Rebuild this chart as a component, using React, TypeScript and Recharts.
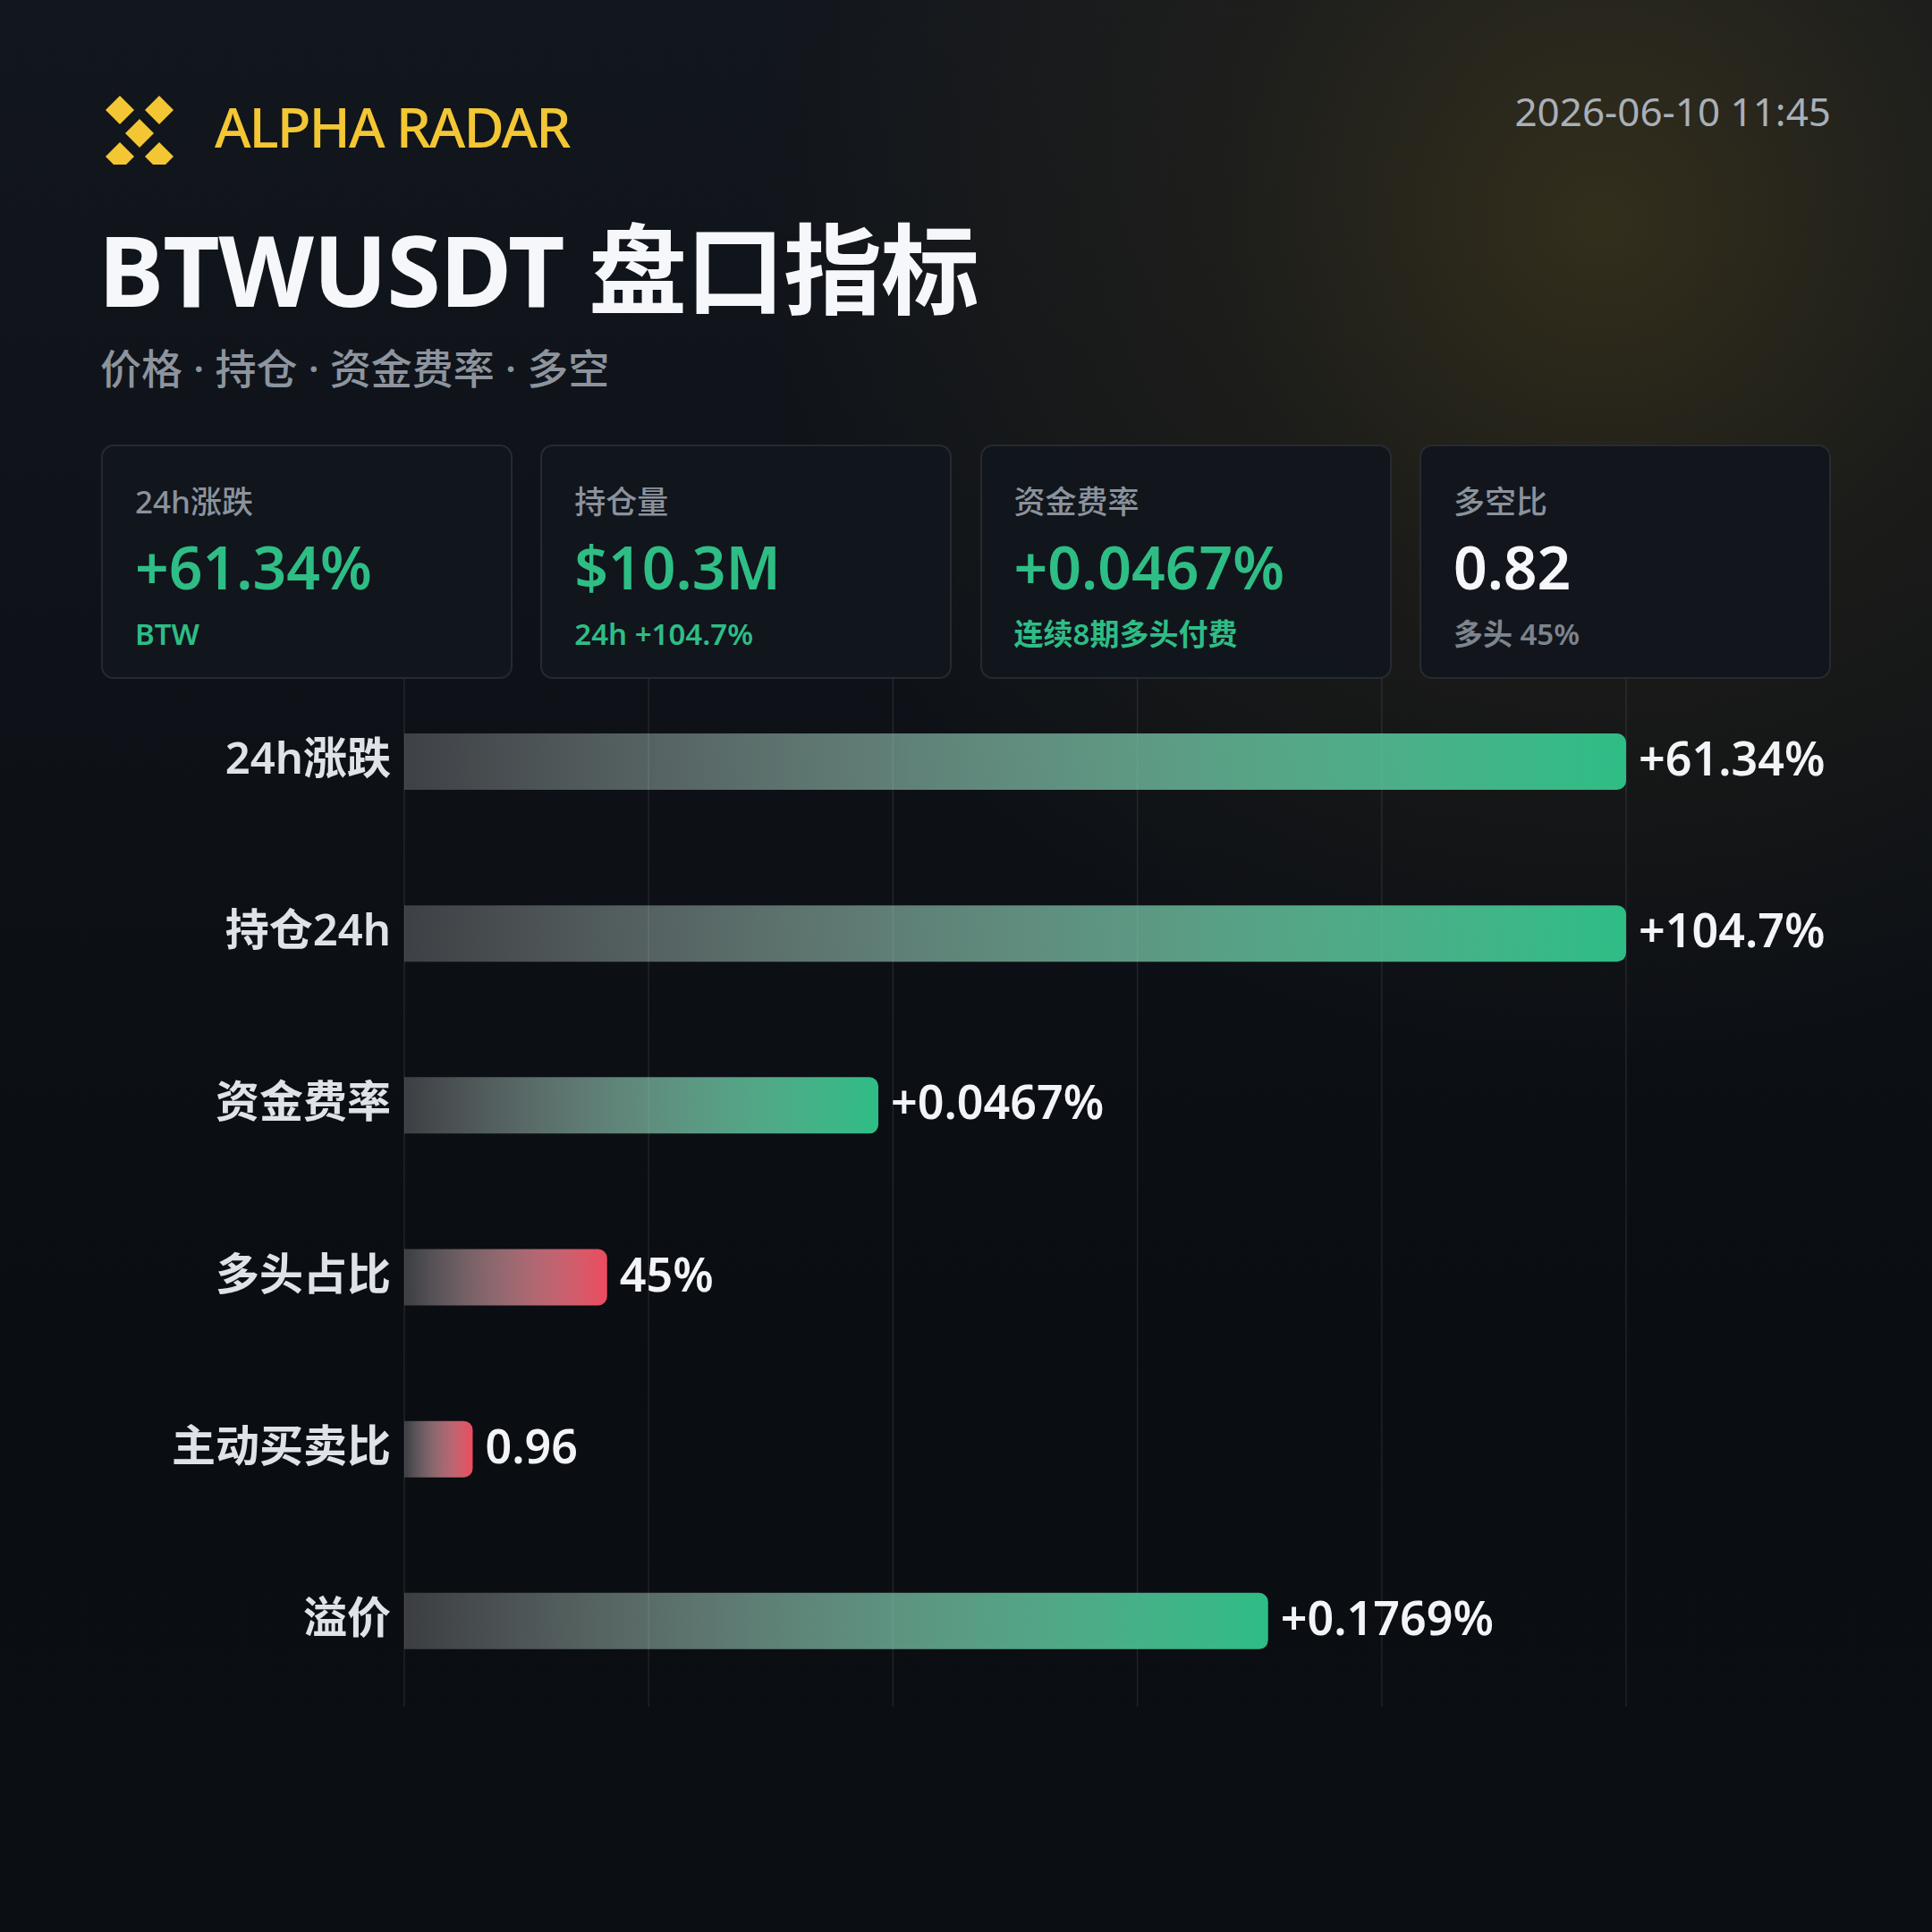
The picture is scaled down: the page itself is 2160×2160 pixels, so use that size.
import React from 'react';
import { BarChart, Bar, XAxis, YAxis, CartesianGrid, Cell, LabelList } from 'recharts';

const categories = ['24h涨跌', '持仓24h', '资金费率', '多头占比', '主动买卖比', '溢价'];
const barScores = [100, 100, 38.8, 16.6, 5.6, 70.7];
const valueLabels = ['+61.34%', '+104.7%', '+0.0467%', '45%', '0.96', '+0.1769%'];
const barTones = ['up', 'up', 'up', 'down', 'down', 'up'];
const gridTicks = [0, 20, 40, 60, 80, 100];

const cardTitles = ['24h涨跌', '持仓量', '资金费率', '多空比'];
const cardValues = ['+61.34%', '$10.3M', '+0.0467%', '0.82'];
const cardSubs = ['BTW', '24h +104.7%', '连续8期多头付费', '多头 45%'];
const cardTones = ['up', 'up', 'up', 'neutral'];

const GREEN = '#2EBD85';
const RED = '#EC4B5E';
const FONT = '"Noto Sans", "Noto Sans CJK SC", sans-serif';

const rows = categories.map((name, i) => ({
  name,
  score: barScores[i],
  label: valueLabels[i],
  tone: barTones[i],
}));

const CategoryTick = (props: any) => {
  const { x, y, payload } = props;
  return (
    <text
      x={x}
      y={y - 5}
      textAnchor="end"
      dominantBaseline="central"
      fill="#DFE3E8"
      fontSize={49}
      fontWeight={600}
      fontFamily={FONT}
    >
      {payload.value}
    </text>
  );
};

const ValueLabel = (props: any) => {
  const { x, y, width, height, value } = props;
  return (
    <text
      x={x + width + 14}
      y={y + height / 2 - 5}
      textAnchor="start"
      dominantBaseline="central"
      fill="#F2F4F7"
      fontSize={52}
      fontWeight={600}
      fontFamily={FONT}
    >
      {value}
    </text>
  );
};

const Logo = () => (
  <svg width={90} height={90} viewBox="0 0 90 90" style={{ position: 'absolute', left: 111, top: 94 }}>
    {[
      [23, 29],
      [67, 29],
      [45, 55],
      [23, 81],
      [67, 81],
    ].map(([cx, cy], i) => (
      <polygon
        key={i}
        points={`${cx},${cy - 16} ${cx + 16},${cy} ${cx},${cy + 16} ${cx - 16},${cy}`}
        fill="#F3C634"
      />
    ))}
  </svg>
);

export default function App() {
  return (
    <div
      style={{
        position: 'absolute',
        left: 0,
        top: 0,
        width: 2160,
        height: 2160,
        overflow: 'hidden',
        fontFamily: FONT,
        background:
          'radial-gradient(circle at 1790px 250px, rgba(150,120,30,0.26) 0px, rgba(120,95,25,0.12) 420px, rgba(0,0,0,0) 950px), linear-gradient(180deg, #12161D 0%, #0E1218 35%, #0A0D12 70%, #0B0E12 100%)',
      }}
    >
      <Logo />
      <div
        style={{
          position: 'absolute',
          left: 240,
          top: 100,
          height: 82,
          lineHeight: '82px',
          fontSize: 62,
          fontWeight: 500,
          color: '#F3C634',
          letterSpacing: -2,
          whiteSpace: 'nowrap',
        }}
      >
        ALPHA RADAR
      </div>
      <div
        style={{
          position: 'absolute',
          right: 113,
          top: 94,
          height: 60,
          lineHeight: '60px',
          fontSize: 44,
          color: '#A9B0B9',
          whiteSpace: 'nowrap',
        }}
      >
        2026-06-10 11:45
      </div>
      <div
        style={{
          position: 'absolute',
          left: 110,
          top: 240,
          height: 120,
          lineHeight: '120px',
          fontSize: 110,
          fontWeight: 700,
          color: '#F5F7FA',
          whiteSpace: 'nowrap',
          letterSpacing: -1,
        }}
      >
        BTWUSDT 盘口指标
      </div>
      <div
        style={{
          position: 'absolute',
          left: 112,
          top: 381,
          height: 60,
          lineHeight: '60px',
          fontSize: 46,
          fontWeight: 500,
          color: '#8D949E',
          whiteSpace: 'nowrap',
        }}
      >
        价格 · 持仓 · 资金费率 · 多空
      </div>

      <div style={{ position: 'absolute', left: 0, top: 755 }}>
        <BarChart
          width={2160}
          height={1153}
          data={rows}
          layout="vertical"
          margin={{ top: 0, right: 342, bottom: 0, left: 0 }}
          barCategoryGap={0}
        >
          <defs>
            <linearGradient id="gradUp" x1="0" y1="0" x2="1" y2="0">
              <stop offset="0%" stopColor="#FFFFFF" stopOpacity={0.2} />
              <stop offset="100%" stopColor={GREEN} stopOpacity={1} />
            </linearGradient>
            <linearGradient id="gradDown" x1="0" y1="0" x2="1" y2="0">
              <stop offset="0%" stopColor="#FFFFFF" stopOpacity={0.2} />
              <stop offset="100%" stopColor={RED} stopOpacity={1} />
            </linearGradient>
          </defs>
          <CartesianGrid horizontal={false} stroke="rgba(255,255,255,0.09)" strokeWidth={1.5} />
          <XAxis type="number" domain={[0, 100]} ticks={gridTicks} hide />
          <YAxis
            type="category"
            dataKey="name"
            width={452}
            axisLine={false}
            tickLine={false}
            tickMargin={9}
            tick={<CategoryTick />}
          />
          <Bar dataKey="score" barSize={63} radius={[0, 10, 10, 0]} isAnimationActive={false}>
            {rows.map((r, i) => (
              <Cell key={i} fill={r.tone === 'up' ? 'url(#gradUp)' : 'url(#gradDown)'} />
            ))}
            <LabelList dataKey="label" content={<ValueLabel />} />
          </Bar>
        </BarChart>
      </div>

      {cardTitles.map((title, i) => {
        const tone = cardTones[i];
        const valueColor = tone === 'up' ? GREEN : '#F5F7FA';
        const subColor = tone === 'up' ? GREEN : '#7D848E';
        return (
          <div
            key={i}
            style={{
              position: 'absolute',
              left: 113 + i * 491.3,
              top: 497,
              width: 460,
              height: 262,
              boxSizing: 'border-box',
              border: '2px solid rgba(255,255,255,0.09)',
              borderRadius: 14,
              background: 'rgba(18,22,28,0.96)',
            }}
          >
            <div
              style={{
                position: 'absolute',
                left: 36,
                top: 40,
                lineHeight: '44px',
                fontSize: 35,
                fontWeight: 500,
                color: '#8B929C',
                whiteSpace: 'nowrap',
              }}
            >
              {title}
            </div>
            <div
              style={{
                position: 'absolute',
                left: 36,
                top: 92,
                lineHeight: '84px',
                fontSize: 66,
                fontWeight: 600,
                color: valueColor,
                whiteSpace: 'nowrap',
              }}
            >
              {cardValues[i]}
            </div>
            <div
              style={{
                position: 'absolute',
                left: 36,
                top: 188,
                lineHeight: '44px',
                fontSize: 33,
                fontWeight: 600,
                color: subColor,
                whiteSpace: 'nowrap',
              }}
            >
              {cardSubs[i]}
            </div>
          </div>
        );
      })}
    </div>
  );
}
